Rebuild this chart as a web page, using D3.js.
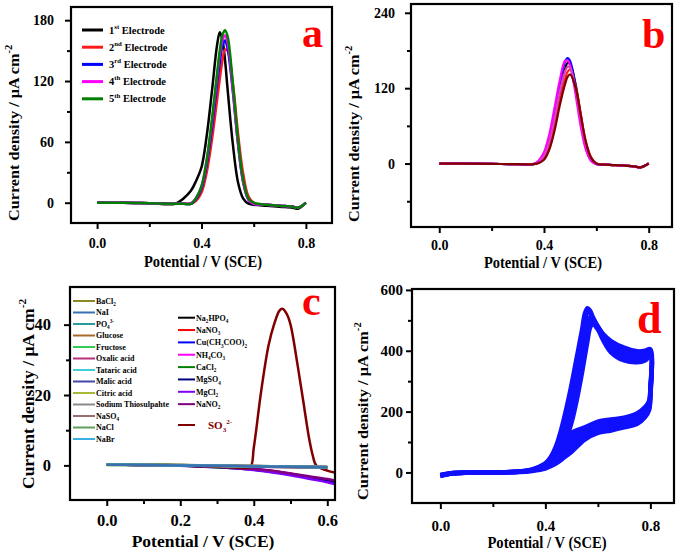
<!DOCTYPE html>
<html><head><meta charset="utf-8">
<script src="https://cdn.jsdelivr.net/npm/d3@7"></script>
<style>
body{margin:0;background:#fff}
svg{display:block}
text{font-family:"Liberation Serif","Times New Roman",serif;font-weight:bold;fill:#000}
</style>
</head><body>
<svg id="chart" width="681" height="555"></svg>
<script>
// ---------------- DATA ----------------
// Panel a: five electrodes (DPV)
const aPotential = [0,0.1,0.2,0.3,0.33,0.36,0.38,0.40,0.42,0.44,0.46,0.47,0.48,0.49,0.50,0.52,0.54,0.56,0.58,0.60,0.65,0.70,0.75,0.77,0.80];
const aNames  = ["1^st Electrode","2^nd Electrode","3^rd Electrode","4^th Electrode","5^th Electrode"];
const aColors = ["#000000","#ff1a1a","#0000ff","#ff00ff","#008000"];
const aElectrode1 = [0,0,-0.5,-1,4,12,22,35,66,110,156,168,161,141,112,58,20,4,-1,-2,-3,-4,-5,-6,0];
const aElectrode2 = [0,0,-0.5,-1,-1,-1,2,10,30,62,102,122,140,151,150,118,68,28,6,0,-2,-3,-4,-5,0];
const aElectrode3 = [0,0,-0.5,-1,-1,-1,4,14,38,74,118,138,155,160,152,110,58,20,3,-1,-2,-3,-4,-5,0];
const aElectrode4 = [0,0,-0.5,-1,-1,-0.5,5,16,42,80,125,146,160,165,158,112,58,20,3,-1,-2,-3,-4,-5,0];
const aElectrode5 = [0,0,-0.5,-1,-1,-1,5,16,42,82,128,150,165,170,164,118,62,22,4,0,-2,-3,-4,-5,0];

// Panel b: repeated scans (DPV)
const bPotential = [0,0.1,0.2,0.3,0.36,0.38,0.40,0.42,0.44,0.46,0.48,0.49,0.50,0.52,0.54,0.56,0.58,0.60,0.65,0.70,0.75,0.77,0.80];
const bColors = ["#000000","#ff2020","#0000ff","#ff00ff","#e040c0","#800000"];
const bScan1 = [0,0,-0.5,-1,-1,2,10,32,68,112,150,160,158,128,78,32,8,0,-2,-3,-5,-6,0];
const bScan2 = [0,0,-0.5,-1,-1,1,8,26,58,98,134,146,150,126,80,35,10,0,-2,-3,-5,-6,0];
const bScan3 = [0,0,-0.5,-1,-1,3,14,40,80,126,162,168,163,124,68,25,5,-1,-2,-3,-5,-6,0];
const bScan4 = [0,0,-0.5,-1,-0.5,5,18,46,88,132,163,164,156,112,60,22,4,-1,-2,-3,-5,-6,0];
const bScan5 = [0,0,-0.5,-1,-1,2,12,34,70,114,146,154,153,120,72,30,8,0,-2,-3,-5,-6,0];
const bScan6 = [0,0,-0.5,-1,-1,1,6,22,52,92,126,138,142,122,78,34,9,0,-2,-3,-5,-6,0];

// Panel c: interference study
const cFlatPotential = [0,0.1,0.2,0.3,0.4,0.5,0.6];
const cDropPotential = [0,0.1,0.2,0.25,0.3,0.35,0.4,0.45,0.5,0.55,0.6,0.62];
const cLeftNames  = ["BaCl_2","NaI","PO_4^3-","Glucose","Fructose","Oxalic acid","Tataric acid","Malic acid","Citric acid","Sodium Thiosulpahte","NaSO_4","NaCl","NaBr"];
const cLeftColors = ["#8c8a1e","#3a6fb0","#2a9a9a","#a86a2a","#33cc55","#b8307f","#3fd0d8","#4646a8","#a8b83a","#8a8a8a","#9a6e70","#5fa05f","#3ab0e0"];
const cLeftValues = [
  [0.3,0.2,0.1,0,-0.2,-0.3,-0.4],
  [0.2,0.1,0,-0.1,-0.3,-0.4,-0.5],
  [0.3,0.1,0,-0.2,-0.3,-0.4,-0.5],
  [0.2,0.2,0.1,-0.1,-0.2,-0.4,-0.5],
  [0.1,0.1,0,-0.1,-0.3,-0.5,-0.6],
  [0.2,0.1,0,-0.2,-0.4,-0.5,-0.6],
  [0.3,0.2,0,-0.1,-0.2,-0.3,-0.4],
  [0.2,0.1,0,-0.1,-0.3,-0.4,-0.6],
  [0.1,0.1,0,-0.2,-0.3,-0.4,-0.5],
  [0.2,0.2,0.1,0,-0.2,-0.3,-0.4],
  [0.2,0.1,0,-0.1,-0.2,-0.4,-0.5],
  [0.3,0.2,0.1,-0.1,-0.3,-0.4,-0.5],
  [0.2,0.1,0,-0.1,-0.3,-0.4,-0.5]
];
const cRightNames  = ["Na_2HPO_4","NaNO_3","Cu(CH_3COO)_2","NH_4CO_3","CaCl_2","MgSO_4","MgCl_2","NaNO_2"];
const cRightColors = ["#000000","#ff0000","#0000ff","#ff00ff","#008000","#000080","#8000ff","#800080"];
const cRightValues = [
  [0.2,0.1,0,-0.2,-0.4,-0.7,-1.1,-1.7,-2.5,-3.4,-4.3,-4.8],
  [0.2,0.1,0,-0.1,-0.3,-0.6,-1.0,-1.6,-2.4,-3.3,-4.2,-4.6],
  [0.2,0.1,-0.1,-0.3,-0.5,-0.8,-1.2,-1.8,-2.6,-3.6,-4.5,-4.9],
  [0.2,0.1,0,-0.2,-0.4,-0.7,-1.0,-1.6,-2.4,-3.3,-4.1,-4.5],
  [0.2,0.1,0,-0.2,-0.5,-0.8,-1.2,-1.8,-2.6,-3.5,-4.4,-4.8],
  [0.2,0.1,0,-0.2,-0.4,-0.7,-1.1,-1.7,-2.5,-3.4,-4.3,-4.7],
  [0.2,0.1,0,-0.2,-0.4,-0.8,-1.3,-2.0,-2.8,-3.8,-4.8,-5.3],
  [0.2,0.1,0,-0.1,-0.3,-0.6,-1.0,-1.5,-2.3,-3.1,-3.9,-4.3]
];
const cSulfitePotential = [0,0.1,0.2,0.3,0.35,0.39,0.40,0.42,0.44,0.455,0.47,0.478,0.49,0.50,0.52,0.535,0.55,0.56,0.57,0.60,0.62];
const cSulfiteValues    = [0.3,0.2,0,-0.4,-0.6,-0.5,5,21,34,40,44,44.5,43,40,28,18,8,3,0,-1.5,-2];
const cSulfiteName = "SO_3^2-";

// Panel d: repeated CV cycles
const dForwardPotential = [0,0.05,0.1,0.2,0.3,0.35,0.4,0.42,0.44,0.46,0.48,0.5,0.52,0.54,0.55,0.56,0.57,0.58,0.6,0.62,0.65,0.7,0.75,0.78,0.8];
const dReversePotential = [0.8,0.795,0.78,0.75,0.7,0.65,0.6,0.55,0.5,0.47,0.45,0.42,0.4,0.35,0.3,0.2,0.1,0.05,0];
const dForward = [
  [-8,-2,-1,0,3,10,30,50,85,140,210,290,380,470,520,540,532,512,480,455,432,410,398,400,405],
  [-9,-2,-1,0,3,9,27,44,76,125,190,265,350,440,495,525,525,508,478,452,427,402,390,392,398],
  [-10,-2,-1,0,2,8,24,39,66,108,168,238,318,405,458,495,510,502,476,447,418,393,381,384,393],
  [-11,-3,-1,0,2,7,21,34,55,90,140,205,280,370,420,462,490,495,474,442,408,382,371,376,388],
  [-12,-3,-1,0,2,6,18,28,45,72,110,165,240,330,380,430,475,488,470,435,395,368,362,368,382]
];
const dReverse = [
  [280,235,215,195,180,174,167,148,130,100,75,45,30,10,3,0,-1,-3,-8],
  [272,227,206,186,172,166,158,138,116,88,66,39,26,9,3,0,-1,-3,-9],
  [265,219,198,177,164,158,149,128,100,76,57,33,22,7,2,0,-1,-3,-10],
  [258,211,189,168,156,150,139,118,84,62,46,27,17,6,2,0,-1,-3,-11],
  [250,205,182,160,148,138,130,108,68,48,35,20,13,5,1,0,-1,-3,-12]
];

// ticks
const xTicksABD = [0,0.4,0.8], xMinorABD = [0.2,0.6];
const yTicksA = [0,60,120,180], yMinorA = [30,90,150];
const yTicksB = [0,120,240], yMinorB = [-60,60,180];
const xTicksC = [0,0.2,0.4,0.6], xMinorC = [0.1,0.3,0.5];
const yTicksC = [0,20,40], yMinorC = [10,30];
const yTicksD = [0,200,400,600], yMinorD = [100,300,500];
const xTitle = "Potential / V (SCE)";
const yTitle = "Current density / μA cm^-2";

// ---------------- DRAWING ----------------
const svg = d3.select("#chart");

function rich(sel, str, fs) {
  const parts = str.split(/(_\d+|\^[\w\-+]+)/).filter(s => s.length);
  let off = 0;
  parts.forEach(p => {
    let t = p, size = fs, target = 0;
    if (p[0] === "_") { t = p.slice(1); size = fs * 0.65; target = fs * 0.3; }
    else if (p[0] === "^") { t = p.slice(1); size = fs * 0.65; target = -fs * 0.45; }
    sel.append("tspan").attr("dy", target - off).attr("font-size", size).text(t);
    off = target;
  });
}

let clipId = 0;
function panel(o) {
  const x = d3.scaleLinear().domain(o.xDom).range([o.L, o.R]);
  const y = d3.scaleLinear().domain(o.yDom).range([o.B, o.T]);
  const g = svg.append("g");
  const id = "clip" + (clipId++);
  g.append("clipPath").attr("id", id).append("rect")
    .attr("x", o.L).attr("y", o.T).attr("width", o.R - o.L).attr("height", o.B - o.T);
  const plot = g.append("g").attr("clip-path", `url(#${id})`);

  const style = sel => {
    sel.select(".domain").remove();
    sel.selectAll(".tick line").attr("stroke", "#000").attr("stroke-width", 2);
    sel.selectAll("text").attr("font-size", o.tickFs).attr("fill", "#000")
      .attr("font-family", '"Liberation Serif","Times New Roman",serif').attr("font-weight", "bold");
  };
  g.append("g").attr("transform", `translate(0,${o.B})`)
    .call(d3.axisBottom(x).tickValues(o.xMinor).tickSize(4).tickFormat("")).call(style);
  g.append("g").attr("transform", `translate(0,${o.B})`)
    .call(d3.axisBottom(x).tickValues(o.xTicks).tickSize(6).tickPadding(o.xPad).tickFormat(d3.format(".1f"))).call(style);
  g.append("g").attr("transform", `translate(${o.L},0)`)
    .call(d3.axisLeft(y).tickValues(o.yMinor).tickSize(4).tickFormat("")).call(style);
  g.append("g").attr("transform", `translate(${o.L},0)`)
    .call(d3.axisLeft(y).tickValues(o.yTicks).tickSize(6).tickPadding(o.yPad).tickFormat(d3.format("d"))).call(style);

  g.append("rect").attr("x", o.L).attr("y", o.T).attr("width", o.R - o.L).attr("height", o.B - o.T)
    .attr("fill", "none").attr("stroke", "#000").attr("stroke-width", 2.2);

  // titles
  const xt = g.append("text").attr("text-anchor", "middle")
    .attr("transform", `translate(${o.xtX},${o.xtY}) scale(1,${o.sY})`).attr("font-size", o.xtFs || o.titleFs);
  xt.text(xTitle);
  const yt = g.append("text").attr("text-anchor", "start")
    .attr("transform", `translate(${o.ytX},${o.ytY}) scale(1,${o.sY}) rotate(-90)`).attr("font-size", o.titleFs);
  rich(yt, yTitle, o.titleFs);

  g.append("text").attr("x", o.letX).attr("y", o.letY).attr("font-size", o.letFs)
    .style("fill", "#ff0000").text(o.letter);
  return {x, y, g, plot};
}

function linePath(x, y, xs, ys, curve) {
  return d3.line().x((d, i) => x(xs[i])).y(d => y(d)).curve(curve || d3.curveMonotoneX)(ys);
}

// ---- Panel a ----
{
  const p = panel({L:71,R:332,T:7,B:223,xDom:[-0.1,0.9],yDom:[-20,193],
    xTicks:xTicksABD,xMinor:xMinorABD,yTicks:yTicksA,yMinor:yMinorA,tickFs:14,xPad:9,yPad:11,
    xtX:203,xtY:267,ytX:19,ytY:221,sY:1.12,titleFs:14.5,letter:"a",letX:302,letY:47,letFs:42});
  const series = [aElectrode1,aElectrode2,aElectrode3,aElectrode4,aElectrode5];
  series.forEach((s, i) => {
    p.plot.append("path").attr("d", linePath(p.x, p.y, aPotential, s, d3.curveCatmullRom))
      .attr("fill", "none").attr("stroke", aColors[i]).attr("stroke-width", 2.5);
  });
  aNames.forEach((n, i) => {
    const yy = 30 + i * 17.2;
    p.g.append("line").attr("x1", 82).attr("x2", 103).attr("y1", yy).attr("y2", yy)
      .attr("stroke", aColors[i]).attr("stroke-width", 3);
    const t = p.g.append("text").attr("x", 109).attr("y", yy + 3.5).attr("font-size", 10.5);
    rich(t, n, 10.5);
  });
}

// ---- Panel b ----
{
  const p = panel({L:411,R:672,T:4,B:227,xDom:[-0.108,0.889],yDom:[-101,254],
    xTicks:xTicksABD,xMinor:xMinorABD,yTicks:yTicksB,yMinor:yMinorB,tickFs:14,xPad:7,yPad:10,
    xtX:543,xtY:267.5,ytX:359,ytY:222,sY:1.12,titleFs:14.5,letter:"b",letX:642,letY:48,letFs:42});
  const series = [bScan1,bScan2,bScan3,bScan4,bScan5,bScan6];
  series.forEach((s, i) => {
    p.plot.append("path").attr("d", linePath(p.x, p.y, bPotential, s, d3.curveCatmullRom))
      .attr("fill", "none").attr("stroke", bColors[i]).attr("stroke-width", 2.2);
  });
}

// ---- Panel c ----
{
  const p = panel({L:70,R:335,T:287,B:500,xDom:[-0.1,0.621],yDom:[-9.84,50.7],
    xTicks:xTicksC,xMinor:xMinorC,yTicks:yTicksC,yMinor:yMinorC,tickFs:16.5,xPad:8,yPad:13,
    xtX:203,xtY:547,ytX:33.5,ytY:489,sY:1.0,titleFs:17.5,letter:"c",letX:302,letY:315,letFs:42});
  cRightValues.forEach((s, i) => {
    p.plot.append("path").attr("d", linePath(p.x, p.y, cDropPotential, s))
      .attr("fill", "none").attr("stroke", cRightColors[i]).attr("stroke-width", 2.5);
  });
  p.plot.append("path").attr("d", linePath(p.x, p.y, cSulfitePotential, cSulfiteValues, d3.curveCatmullRom))
    .attr("fill", "none").attr("stroke", "#800000").attr("stroke-width", 2.5);
  // draw flat (left-column) series so that NaI (steel blue) ends up on top
  const order = [0,2,3,4,5,6,7,8,9,10,11,12,1];
  order.forEach(i => {
    p.plot.append("path").attr("d", linePath(p.x, p.y, cFlatPotential, cLeftValues[i]))
      .attr("fill", "none").attr("stroke", cLeftColors[i]).attr("stroke-width", 2.5);
  });
  cLeftNames.forEach((n, i) => {
    const yy = 301 + i * 11.5;
    p.g.append("line").attr("x1", 73).attr("x2", 95).attr("y1", yy).attr("y2", yy)
      .attr("stroke", cLeftColors[i]).attr("stroke-width", 2);
    const t = p.g.append("text").attr("x", 96).attr("y", yy + 2.8).attr("font-size", 8);
    rich(t, n, 8);
  });
  cRightNames.forEach((n, i) => {
    const yy = 317.7 + i * 12.35;
    p.g.append("line").attr("x1", 178).attr("x2", 195).attr("y1", yy).attr("y2", yy)
      .attr("stroke", cRightColors[i]).attr("stroke-width", 2);
    const t = p.g.append("text").attr("x", 196).attr("y", yy + 2.8).attr("font-size", 8);
    rich(t, n, 8);
  });
  p.g.append("line").attr("x1", 178).attr("x2", 195).attr("y1", 425).attr("y2", 425)
    .attr("stroke", "#800000").attr("stroke-width", 2);
  const st = p.g.append("text").attr("x", 208).attr("y", 429).attr("font-size", 11).style("fill", "#800000");
  rich(st, cSulfiteName, 11);
  st.selectAll("tspan").style("fill", "#800000");
}

// ---- Panel d ----
{
  const p = panel({L:412,R:674,T:289,B:503,xDom:[-0.108,0.89],yDom:[-100.5,603],
    xTicks:xTicksABD,xMinor:xMinorABD,yTicks:yTicksD,yMinor:yMinorD,tickFs:15,xPad:11,yPad:3,
    xtX:547,xtY:547.5,ytX:368,ytY:500,sY:1.12,titleFs:14.6,letter:"d",letX:637,letY:333,letFs:44});
  dForward.forEach((f, i) => {
    const pts = f.map((v, k) => [dForwardPotential[k], v])
      .concat(dReverse[i].map((v, k) => [dReversePotential[k], v]));
    const line = d3.line().x(d => p.x(d[0])).y(d => p.y(d[1])).curve(d3.curveCatmullRom);
    p.plot.append("path").attr("d", line(pts)).attr("fill", "none")
      .attr("stroke", "#1010ff").attr("stroke-width", 4.5).attr("stroke-linejoin", "round");
  });
}
</script>
</body></html>
